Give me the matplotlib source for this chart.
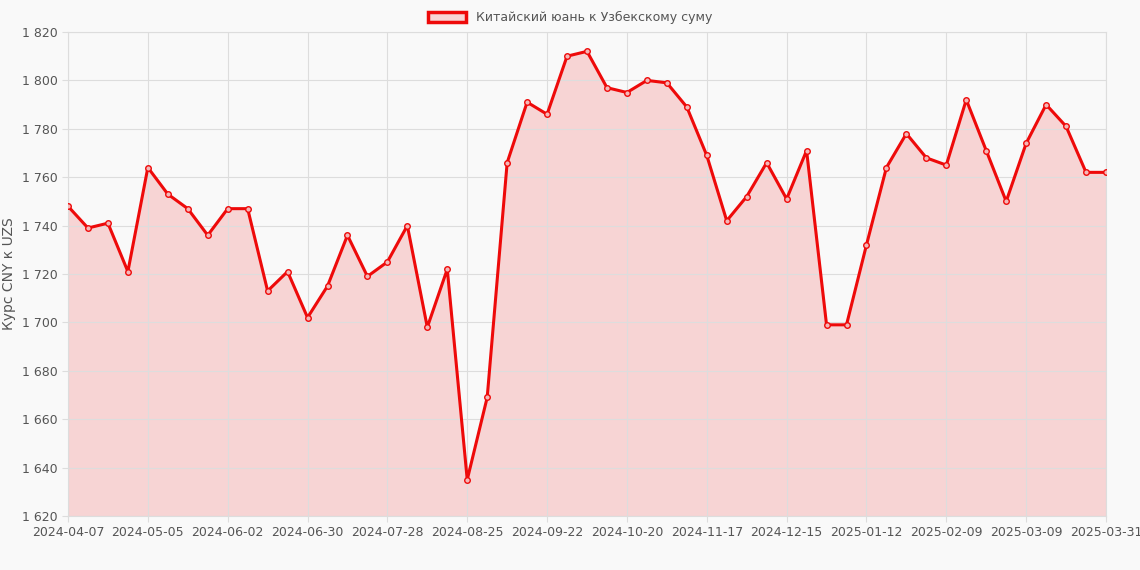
import matplotlib.pyplot as plt
from matplotlib.ticker import FuncFormatter
from matplotlib.patches import Patch

# weekly CNY -> UZS rate
rates = [1748, 1739, 1741, 1721, 1764, 1753, 1747, 1736, 1747, 1747,
         1713, 1721, 1702, 1715, 1736, 1719, 1725, 1740, 1698, 1722,
         1635, 1669, 1766, 1791, 1786, 1810, 1812, 1797, 1795, 1800,
         1799, 1789, 1769, 1742, 1752, 1766, 1751, 1771, 1699, 1699,
         1732, 1764, 1778, 1768, 1765, 1792, 1771, 1750, 1774, 1790,
         1781, 1762, 1762]
tick_pos = [0, 4, 8, 12, 16, 20, 24, 28, 32, 36, 40, 44, 48, 52]
tick_labels = ['2024-04-07', '2024-05-05', '2024-06-02', '2024-06-30', '2024-07-28',
               '2024-08-25', '2024-09-22', '2024-10-20', '2024-11-17', '2024-12-15',
               '2025-01-12', '2025-02-09', '2025-03-09', '2025-03-31']

red = '#ee0a0a'
fig = plt.figure(figsize=(11.4, 5.7), dpi=100, facecolor='#f9f9f9')
ax = fig.add_axes([68/1140, 1-516/570, (1106-68)/1140, (516-32)/570])
ax.set_facecolor('#f9f9f9')
x = list(range(len(rates)))
ax.fill_between(x, rates, 1620, color='#f7d4d4', zorder=1)
ax.plot(x, rates, color=red, lw=2.2, marker='o', ms=4, mfc='#f4b8b8', mec=red, mew=1.0, zorder=3)

ax.set_xlim(0, len(rates) - 1)
ax.set_ylim(1620, 1820)
ax.set_yticks(range(1620, 1821, 20))
ax.yaxis.set_major_formatter(FuncFormatter(lambda v, p: f'{int(v):,}'.replace(',', ' ')))
ax.set_xticks(tick_pos)
ax.set_xticklabels(tick_labels)
ax.grid(color='#dddddd', lw=0.8, zorder=0)
for s in ax.spines.values():
    s.set_color('#dddddd')
ax.tick_params(colors='#555555', labelsize=9, length=4, color='#dddddd')
ax.set_ylabel('Курс CNY к UZS', color='#555555', fontsize=10)

fig.legend(handles=[Patch(facecolor='#f7d4d4', edgecolor=red, lw=2.5)],
           labels=['Китайский юань к Узбекскому суму'], loc='upper center',
           bbox_to_anchor=(0.5, 1.0), frameon=False, fontsize=9, labelcolor='#555555',
           handlelength=3, handleheight=0.9)
fig.savefig('out.png', dpi=100, facecolor=fig.get_facecolor())
